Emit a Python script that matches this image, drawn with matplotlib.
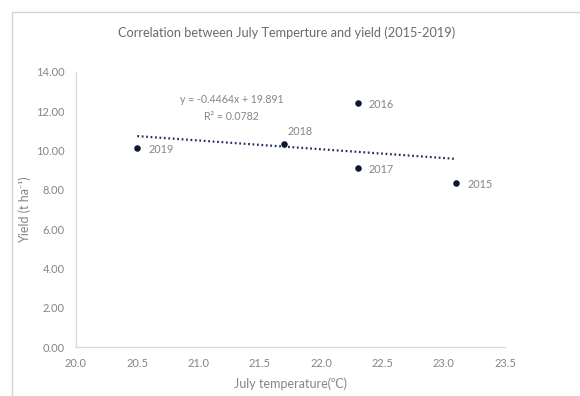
import numpy as np
import matplotlib
matplotlib.use("Agg")
import matplotlib.pyplot as plt
from matplotlib.patches import Rectangle

plt.rcParams['font.family'] = ['Lato', 'DejaVu Sans']

# July mean temperature (°C) and yield (t/ha) per season
years = ['2015', '2016', '2017', '2018', '2019']
july_temp = [23.1, 22.3, 22.3, 21.7, 20.5]
yield_t_ha = [8.36, 12.43, 9.10, 10.34, 10.15]

x_ticks = [20.0, 20.5, 21.0, 21.5, 22.0, 22.5, 23.0, 23.5]
y_ticks = [0, 2, 4, 6, 8, 10, 12, 14]

eq_text = "y = -0.4464x + 19.891"
r2_text = "R\u00b2 = 0.0782"

text_grey = '#858585'
title_grey = '#6a6a6a'
point_col = '#0b1630'
trend_col = '#1f3060'

fig = plt.figure(figsize=(5.8, 3.96), dpi=100)
fig.patch.set_facecolor('white')

# outer chart-area border
fig.patches.append(Rectangle((12 / 580, -0.1), 1.2, 1 - 12 / 396 + 0.1,
                             transform=fig.transFigure, fill=False,
                             edgecolor='#d6d6d6', linewidth=1.0))

ax = fig.add_axes([76 / 580, 1 - 347 / 396, (505 - 76) / 580, (347 - 72) / 396])

x = np.array(july_temp)
y = np.array(yield_t_ha)

# linear trend over the observed temperature range
slope, intercept = np.polyfit(x, y, 1)
xs = np.array([x.min(), x.max()])
ax.plot(xs, slope * xs + intercept, linestyle=(0, (0.8, 1.2)), linewidth=1.6,
        color=trend_col, zorder=2)

ax.scatter(x, y, s=22, color=point_col, zorder=3, linewidths=0)

for yr, xi, yi in zip(years, july_temp, yield_t_ha):
    if yr == '2018':
        off, ha, va = (2, 5), 'left', 'bottom'
    else:
        off, ha, va = (8, -1), 'left', 'center'
    ax.annotate(yr, (xi, yi), xytext=off, textcoords='offset points',
                ha=ha, va=va, fontsize=7.8, color=text_grey)

ax.text(21.27, 12.62, eq_text, ha='center', va='center', fontsize=7.6, color=text_grey)
ax.text(21.27, 11.75, r2_text, ha='center', va='center', fontsize=7.6, color=text_grey)

ax.set_xlim(20.0, 23.5)
ax.set_ylim(0, 14)
ax.set_xticks(x_ticks)
ax.set_xticklabels([f"{v:.1f}" for v in x_ticks])
ax.set_yticks(y_ticks)
ax.set_yticklabels([f"{v:.2f}" for v in y_ticks])
ax.tick_params(length=0, labelsize=8, labelcolor=text_grey, pad=8)

for side in ('top', 'right'):
    ax.spines[side].set_visible(False)
for side in ('left', 'bottom'):
    ax.spines[side].set_color('#d9d9d9')
    ax.spines[side].set_linewidth(1.0)

ax.set_xlabel("July temperature(\u2070C)", fontsize=9, color=text_grey, labelpad=6)
ax.set_ylabel("Yield (t ha\u207b\u00b9)", fontsize=9, color=text_grey, labelpad=4)

fig.text(0.495, 1 - 33 / 396, "Correlation between July Temperture and yield (2015-2019)",
         ha='center', va='center', fontsize=9.2, color=title_grey)

fig.savefig('out.png', dpi=100, facecolor='white')
